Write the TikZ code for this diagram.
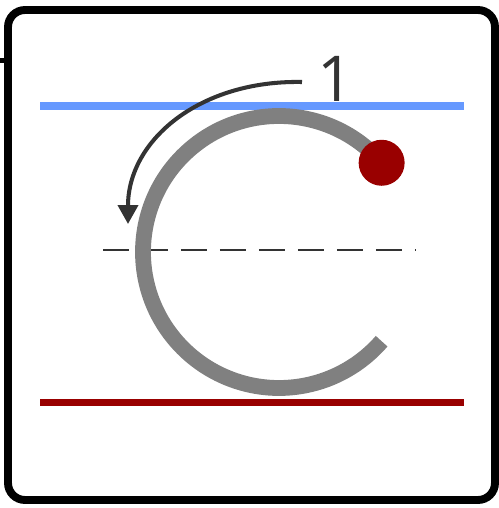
\documentclass[tikz,border=0pt]{standalone}
\usepackage{fontspec}
\setmainfont{Open Sans}
\usepackage{xcolor}
\usetikzlibrary{arrows.meta,positioning}
\definecolor{guideblue}{HTML}{6699FF}
\definecolor{guidered}{HTML}{990000}
\definecolor{strokegray}{HTML}{808080}
\definecolor{inkgray}{HTML}{333333}

\begin{document}
\begin{tikzpicture}[
    x=0.02cm, y=0.02cm,
    frame/.style={draw=black, line width=4.5pt, rounded corners=0.34cm},
    topline/.style={draw=guideblue, line width=4pt},
    baseline/.style={draw=guidered, line width=4pt},
    midline/.style={draw=inkgray, line width=1.3pt, dash pattern=on 0.52cm off 0.26cm},
    letter/.style={draw=strokegray, line width=9pt},
    startdot/.style={circle, fill=guidered, minimum size=0.92cm, inner sep=0pt},
    strokearrow/.style={draw=inkgray, line width=2.3pt, -{Triangle[length=0.38cm, width=0.4cm]}},
    strokenum/.style={font=\fontsize{36}{40}\selectfont, text=inkgray, inner sep=0pt},
  ]
    \useasboundingbox (0,0) rectangle (499,508);
    \draw[black, line width=2.8pt] (0,447.5) -- (8,447.5);
    \draw[frame] (8,8) rectangle (495,498);
    \draw[baseline] (40,105.5) -- (464,105.5);
    \draw[topline] (40,402) -- (464,402);
    \draw[midline] (103,258) -- (415,258);
    \coordinate (ccenter) at (279,256);
    \draw[letter] ([shift={(41:136)}]ccenter) arc[start angle=41, end angle=319, radius=136];
    \node[startdot] (dot) at ([shift={(41:136)}]ccenter) {};
    \node[strokenum, anchor=base] (num) at (336,406) {1};
    \coordinate (arrowstart) at (302,426);
    \coordinate (arrowend) at (128,284);
    \draw[strokearrow] (arrowstart) .. controls (200,428) and (128,368) .. (arrowend);
  \end{tikzpicture}
\end{document}
